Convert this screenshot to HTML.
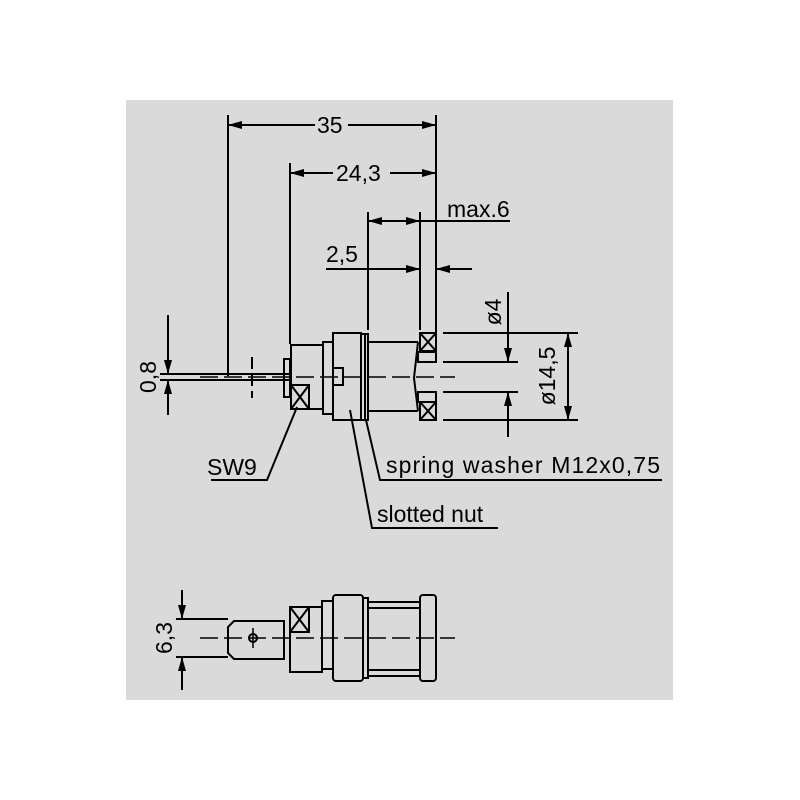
<!DOCTYPE html>
<html><head><style>body{margin:0;background:#fff}svg{display:block}text{font-family:"Liberation Sans",sans-serif;font-size:23px;fill:#000}</style></head>
<body>
<svg width="800" height="800" viewBox="0 0 800 800" xmlns="http://www.w3.org/2000/svg">
<defs>
<marker id="a" viewBox="0 0 14 8" refX="14" refY="4" markerWidth="14" markerHeight="8" markerUnits="userSpaceOnUse" orient="auto-start-reverse"><path d="M0,0L14,4L0,8z" fill="#000"/></marker>
</defs>
<rect x="126" y="100" width="547" height="600" fill="#dadada"/>
<g stroke="#000" stroke-width="2" fill="none">
<line x1="228" y1="115" x2="228" y2="376"/>
<line x1="436" y1="115" x2="436" y2="332"/>
<line x1="290" y1="163" x2="290" y2="344"/>
<line x1="368" y1="212" x2="368" y2="330"/>
<line x1="420" y1="212" x2="420" y2="330"/>
<line x1="228" y1="125" x2="315" y2="125" marker-start="url(#a)"/>
<line x1="348" y1="125" x2="436" y2="125" marker-end="url(#a)"/>
<line x1="290" y1="173" x2="333" y2="173" marker-start="url(#a)"/>
<line x1="390" y1="173" x2="436" y2="173" marker-end="url(#a)"/>
<line x1="368" y1="221" x2="394" y2="221" marker-start="url(#a)"/>
<line x1="394" y1="221" x2="420" y2="221" marker-end="url(#a)"/>
<line x1="420" y1="221" x2="510" y2="221"/>
<line x1="326" y1="269" x2="420" y2="269" marker-end="url(#a)"/>
<line x1="472" y1="269" x2="436" y2="269" marker-end="url(#a)"/>
<line x1="160" y1="374" x2="290" y2="374"/>
<line x1="160" y1="380" x2="290" y2="380"/>
<line x1="168" y1="315" x2="168" y2="374" marker-end="url(#a)"/>
<line x1="168" y1="415" x2="168" y2="380" marker-end="url(#a)"/>
<line x1="252" y1="357" x2="252" y2="398" stroke-dasharray="12,5"/>
<rect x="284" y="359" width="6" height="38"/>
<rect x="291" y="345" width="32" height="64"/>
<rect x="291" y="385" width="18" height="24"/>
<path d="M291,385L309,409M309,385L291,409"/>
<rect x="323" y="342" width="10" height="72"/>
<rect x="333" y="333" width="28" height="87"/>
<path d="M333,368H343V385H333"/>
<rect x="361" y="334" width="4" height="86"/>
<rect x="365" y="334" width="3" height="86"/>
<path d="M368,342H418M368,411H418"/>
<path d="M418,342L414,378L418,411"/>
<rect x="420" y="333" width="16" height="18"/>
<path d="M420,333L436,351M436,333L420,351"/>
<rect x="420" y="402" width="16" height="18"/>
<path d="M420,402L436,420M436,402L420,420"/>
<rect x="418" y="352" width="18" height="10"/>
<rect x="418" y="392" width="18" height="10"/>
<line x1="200" y1="377" x2="455" y2="377" stroke-dasharray="18,6" stroke-width="1.5"/>
<line x1="443" y1="333" x2="578" y2="333"/>
<line x1="443" y1="420" x2="578" y2="420"/>
<line x1="443" y1="362" x2="518" y2="362"/>
<line x1="443" y1="392" x2="518" y2="392"/>
<line x1="508" y1="292" x2="508" y2="362" marker-end="url(#a)"/>
<line x1="508" y1="437" x2="508" y2="392" marker-end="url(#a)"/>
<line x1="568" y1="376" x2="568" y2="333" marker-end="url(#a)"/>
<line x1="568" y1="376" x2="568" y2="420" marker-end="url(#a)"/>
<path d="M297,407L267,480H211"/>
<path d="M366,420L380,480H662"/>
<path d="M350,410L372,528H498"/>
<line x1="182" y1="590" x2="182" y2="619" marker-end="url(#a)"/>
<line x1="182" y1="690" x2="182" y2="657" marker-end="url(#a)"/>
<path d="M176,619H228M176,657H228"/>
<path d="M234,621H284V659H234L228,653V627Z"/>
<circle cx="253" cy="638" r="4"/>
<line x1="253" y1="628" x2="253" y2="648" stroke-width="1.5"/>
<path d="M290,607H322V672H290Z"/>
<rect x="290" y="607" width="19" height="25"/>
<path d="M290,607L309,632M309,607L290,632"/>
<rect x="322" y="601" width="11" height="68"/>
<rect x="333" y="595" width="30" height="86" rx="3"/>
<rect x="363" y="598" width="5" height="80"/>
<path d="M368,602H420M368,676H420M368,608H420M368,670H420"/>
<rect x="420" y="595" width="16" height="86" rx="3"/>
<line x1="200" y1="638" x2="455" y2="638" stroke-dasharray="18,6" stroke-width="1.5"/>
</g>
<text x="317" y="133">35</text>
<text x="336" y="181">24,3</text>
<text x="447" y="217">max.6</text>
<text x="326" y="262">2,5</text>
<text x="207" y="475">SW9</text>
<text x="386" y="473" textLength="274">spring washer M12x0,75</text>
<text x="377" y="522">slotted nut</text>
<text transform="translate(156,377) rotate(-90)" text-anchor="middle">0,8</text>
<text transform="translate(501,312) rotate(-90)" text-anchor="middle">ø4</text>
<text transform="translate(555,376) rotate(-90)" text-anchor="middle">ø14,5</text>
<text transform="translate(172,638) rotate(-90)" text-anchor="middle">6,3</text>
</svg>
</body></html>
